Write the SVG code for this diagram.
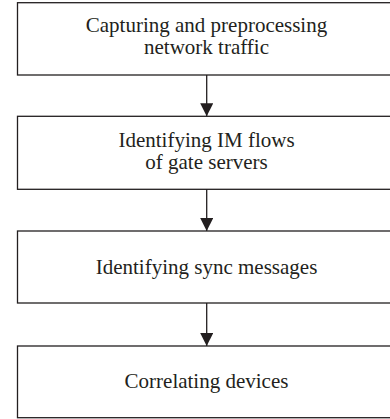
<svg xmlns="http://www.w3.org/2000/svg" width="390" height="419" viewBox="0 0 390 419">
  <style>
    .box { fill: #ffffff; stroke: #231f20; stroke-width: 1.3; }
    .lbl { font-family: "Liberation Serif", "Times New Roman", serif; font-size: 21px; fill: #231f20; text-anchor: middle; }
    .conn { stroke: #231f20; stroke-width: 1.3; fill: none; }
  </style>
  <defs>
    <marker id="arrow" markerUnits="userSpaceOnUse" markerWidth="14" markerHeight="15" refX="13" refY="6.5" orient="auto">
      <path d="M0,0 L13,6.5 L0,13 Z" fill="#231f20"/>
    </marker>
  </defs>
  <rect width="390" height="419" fill="#ffffff"/>
  <g id="node1">
    <rect class="box" x="17.5" y="2.7" width="379" height="72.3"/>
    <text class="lbl" x="206.5" y="31.5">Capturing and preprocessing</text>
    <text class="lbl" x="206.5" y="53.5">network traffic</text>
  </g>
  <g id="node2">
    <rect class="box" x="17.5" y="116.3" width="379" height="73"/>
    <text class="lbl" x="206.5" y="147">Identifying IM flows</text>
    <text class="lbl" x="206.5" y="169">of gate servers</text>
  </g>
  <g id="node3">
    <rect class="box" x="17.5" y="231" width="379" height="72"/>
    <text class="lbl" x="206.5" y="274">Identifying sync messages</text>
  </g>
  <g id="node4">
    <rect class="box" x="17.5" y="346" width="379" height="71.7"/>
    <text class="lbl" x="206.5" y="388">Correlating devices</text>
  </g>
  <g id="connectors">
    <line class="conn" x1="206.7" y1="75" x2="206.7" y2="116.3" marker-end="url(#arrow)"/>
    <line class="conn" x1="206.7" y1="189.3" x2="206.7" y2="231" marker-end="url(#arrow)"/>
    <line class="conn" x1="206.7" y1="303" x2="206.7" y2="346" marker-end="url(#arrow)"/>
  </g>
</svg>
